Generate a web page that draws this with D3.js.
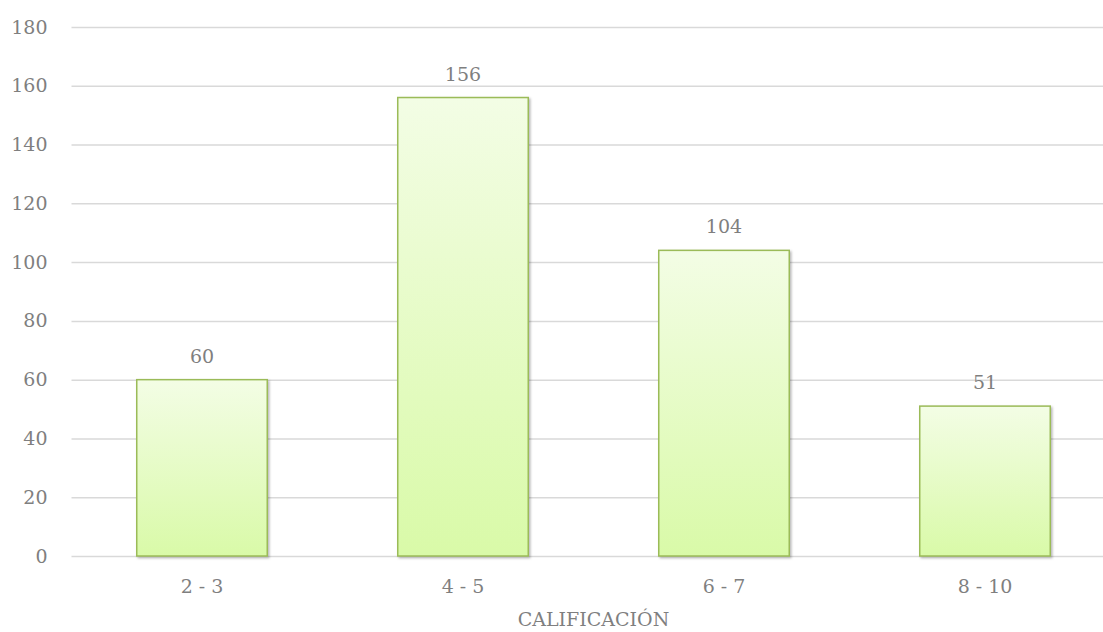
<!DOCTYPE html>
<html>
<head>
<meta charset="utf-8">
<script src="https://cdn.jsdelivr.net/npm/d3@7"></script>
<style>
  html, body { margin: 0; padding: 0; background: #ffffff; }
  svg { display: block; }
  text { font-family: "DejaVu Serif", serif; fill: #7f7f7f; }
</style>
</head>
<body>
<svg id="chart" width="1103" height="632"></svg>
<script>
// Number of students per grade band
const categories = ["2 - 3", "4 - 5", "6 - 7", "8 - 10"];
const values = [60, 156, 104, 51];
const yTicks = [0, 20, 40, 60, 80, 100, 120, 140, 160, 180];
const xTitle = "CALIFICACIÓN";

const svg = d3.select("#chart");
const plot = { left: 71.5, right: 1115.5, top: 27, bottom: 556 };

const x = d3.scaleBand()
  .domain(categories)
  .range([plot.left, plot.right])
  .paddingInner(0.5)
  .paddingOuter(0.25);

const y = d3.scaleLinear()
  .domain([0, 180])
  .range([plot.bottom, plot.top]);

const defs = svg.append("defs");
const grad = defs.append("linearGradient")
  .attr("id", "barFill")
  .attr("x1", 0).attr("y1", 0).attr("x2", 0).attr("y2", 1);
grad.append("stop").attr("offset", "0%").attr("stop-color", "#f3fde5");
grad.append("stop").attr("offset", "100%").attr("stop-color", "#d9faa8");

const shadow = defs.append("filter")
  .attr("id", "barShadow")
  .attr("x", "-10%").attr("y", "-10%").attr("width", "130%").attr("height", "130%");
shadow.append("feDropShadow")
  .attr("dx", 1.5).attr("dy", 1.5).attr("stdDeviation", 1.2)
  .attr("flood-color", "#000").attr("flood-opacity", 0.28);

// Horizontal gridlines and y tick labels
const yAxis = d3.axisLeft(y)
  .tickValues(yTicks)
  .tickSize(-(plot.right - plot.left))
  .tickPadding(24);

const gy = svg.append("g")
  .attr("transform", `translate(${plot.left},0)`)
  .call(yAxis);
gy.select(".domain").remove();
gy.selectAll(".tick line")
  .attr("stroke", "#d9d9d9")
  .attr("stroke-width", 1.5);
gy.selectAll(".tick text")
  .attr("font-size", 19)
  .attr("fill", "#7f7f7f")
  .attr("font-family", "DejaVu Serif, serif");

// Bars
svg.append("g").selectAll("rect")
  .data(values)
  .join("rect")
  .attr("x", (d, i) => x(categories[i]))
  .attr("y", d => y(d))
  .attr("width", x.bandwidth())
  .attr("height", d => y(0) - y(d))
  .attr("fill", "url(#barFill)")
  .attr("stroke", "#9bbb59")
  .attr("stroke-width", 1.5)
  .attr("filter", "url(#barShadow)");

// Value labels above bars
svg.append("g").selectAll("text")
  .data(values)
  .join("text")
  .attr("x", (d, i) => x(categories[i]) + x.bandwidth() / 2)
  .attr("y", d => y(d) - 17)
  .attr("text-anchor", "middle")
  .attr("font-size", 19)
  .text(d => d);

// Category axis
const xAxis = d3.axisBottom(x).tickSize(0).tickPadding(24);
const gx = svg.append("g")
  .attr("transform", `translate(0,${plot.bottom})`)
  .call(xAxis);
gx.select(".domain").remove();
gx.selectAll(".tick text")
  .attr("font-size", 19)
  .attr("fill", "#7f7f7f")
  .attr("font-family", "DejaVu Serif, serif");

// Axis title
svg.append("text")
  .attr("x", (plot.left + plot.right) / 2)
  .attr("y", 626)
  .attr("text-anchor", "middle")
  .attr("font-size", 19)
  .text(xTitle);
</script>
</body>
</html>
